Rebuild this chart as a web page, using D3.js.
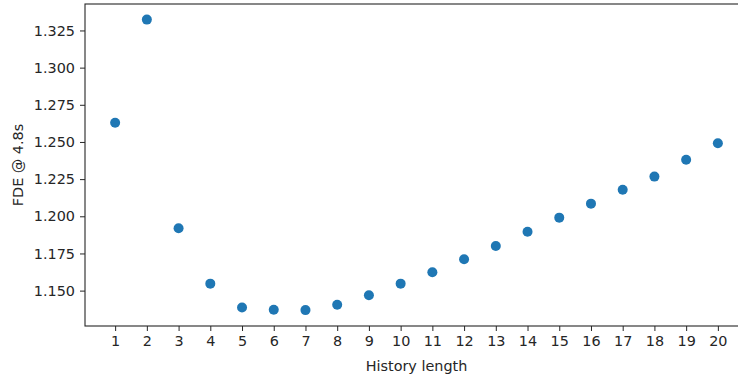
<!DOCTYPE html>
<html>
<head>
<meta charset="utf-8">
<script src="https://cdn.jsdelivr.net/npm/d3@7"></script>
<style>
  html, body { margin: 0; padding: 0; background: #fff; }
  svg { display: block; }
  text { font-family: "DejaVu Sans", sans-serif; fill: #262626; }
</style>
</head>
<body>
<svg id="chart" width="738" height="378"></svg>
<script>
// History length vs. final displacement error at 4.8 s
const historyLengths = [1, 2, 3, 4, 5, 6, 7, 8, 9, 10, 11, 12, 13, 14, 15, 16, 17, 18, 19, 20];
const fdeValues = [1.2629, 1.3323, 1.1920, 1.1547, 1.1387, 1.1371, 1.1369, 1.1405, 1.1469, 1.1547,
                   1.1623, 1.1711, 1.1800, 1.1896, 1.1991, 1.2085, 1.2178, 1.2267, 1.2380, 1.2491];
const yTicks = [1.150, 1.175, 1.200, 1.225, 1.250, 1.275, 1.300, 1.325];
const xLabel = "History length";
const yLabel = "FDE @ 4.8s";

const svg = d3.select("#chart");
const plot = { left: 85, top: 4, right: 748, bottom: 326 };
const fontSize = 14.4;

const x = d3.scaleLinear().domain([0.05, 20.95]).range([plot.left, plot.right]);
const y = d3.scaleLinear().domain([1.1262, 1.3428]).range([plot.bottom, plot.top]);

// axes
const xAxis = svg.append("g")
  .attr("transform", `translate(0,${plot.bottom})`)
  .call(d3.axisBottom(x).tickValues(historyLengths).tickFormat(d3.format("d")).tickSize(5).tickSizeOuter(0).tickPadding(5));
const yAxis = svg.append("g")
  .attr("transform", `translate(${plot.left},0)`)
  .call(d3.axisLeft(y).tickValues(yTicks).tickFormat(d3.format(".3f")).tickSize(5).tickSizeOuter(0).tickPadding(5));

[xAxis, yAxis].forEach(g => {
  g.select(".domain").remove();
  g.selectAll(".tick line").attr("stroke", "#262626").attr("stroke-width", 1);
  g.selectAll(".tick text").attr("font-size", fontSize).style("fill", "#262626");
});

// frame (top and right spines)
svg.append("rect")
  .attr("x", plot.left).attr("y", plot.top)
  .attr("width", plot.right - plot.left).attr("height", plot.bottom - plot.top)
  .attr("fill", "none").attr("stroke", "#262626").attr("stroke-width", 1.1);

// points
svg.append("g").selectAll("circle")
  .data(historyLengths.map((h, i) => ({ h, v: fdeValues[i] })))
  .join("circle")
  .attr("cx", d => x(d.h))
  .attr("cy", d => y(d.v))
  .attr("r", 5)
  .attr("fill", "#1f77b4");

// axis labels
svg.append("text")
  .attr("x", (plot.left + plot.right) / 2)
  .attr("y", 371)
  .attr("text-anchor", "middle")
  .attr("font-size", fontSize)
  .text(xLabel);

svg.append("text")
  .attr("transform", `translate(23,${(plot.top + plot.bottom) / 2}) rotate(-90)`)
  .attr("text-anchor", "middle")
  .attr("font-size", fontSize)
  .text(yLabel);
</script>
</body>
</html>
